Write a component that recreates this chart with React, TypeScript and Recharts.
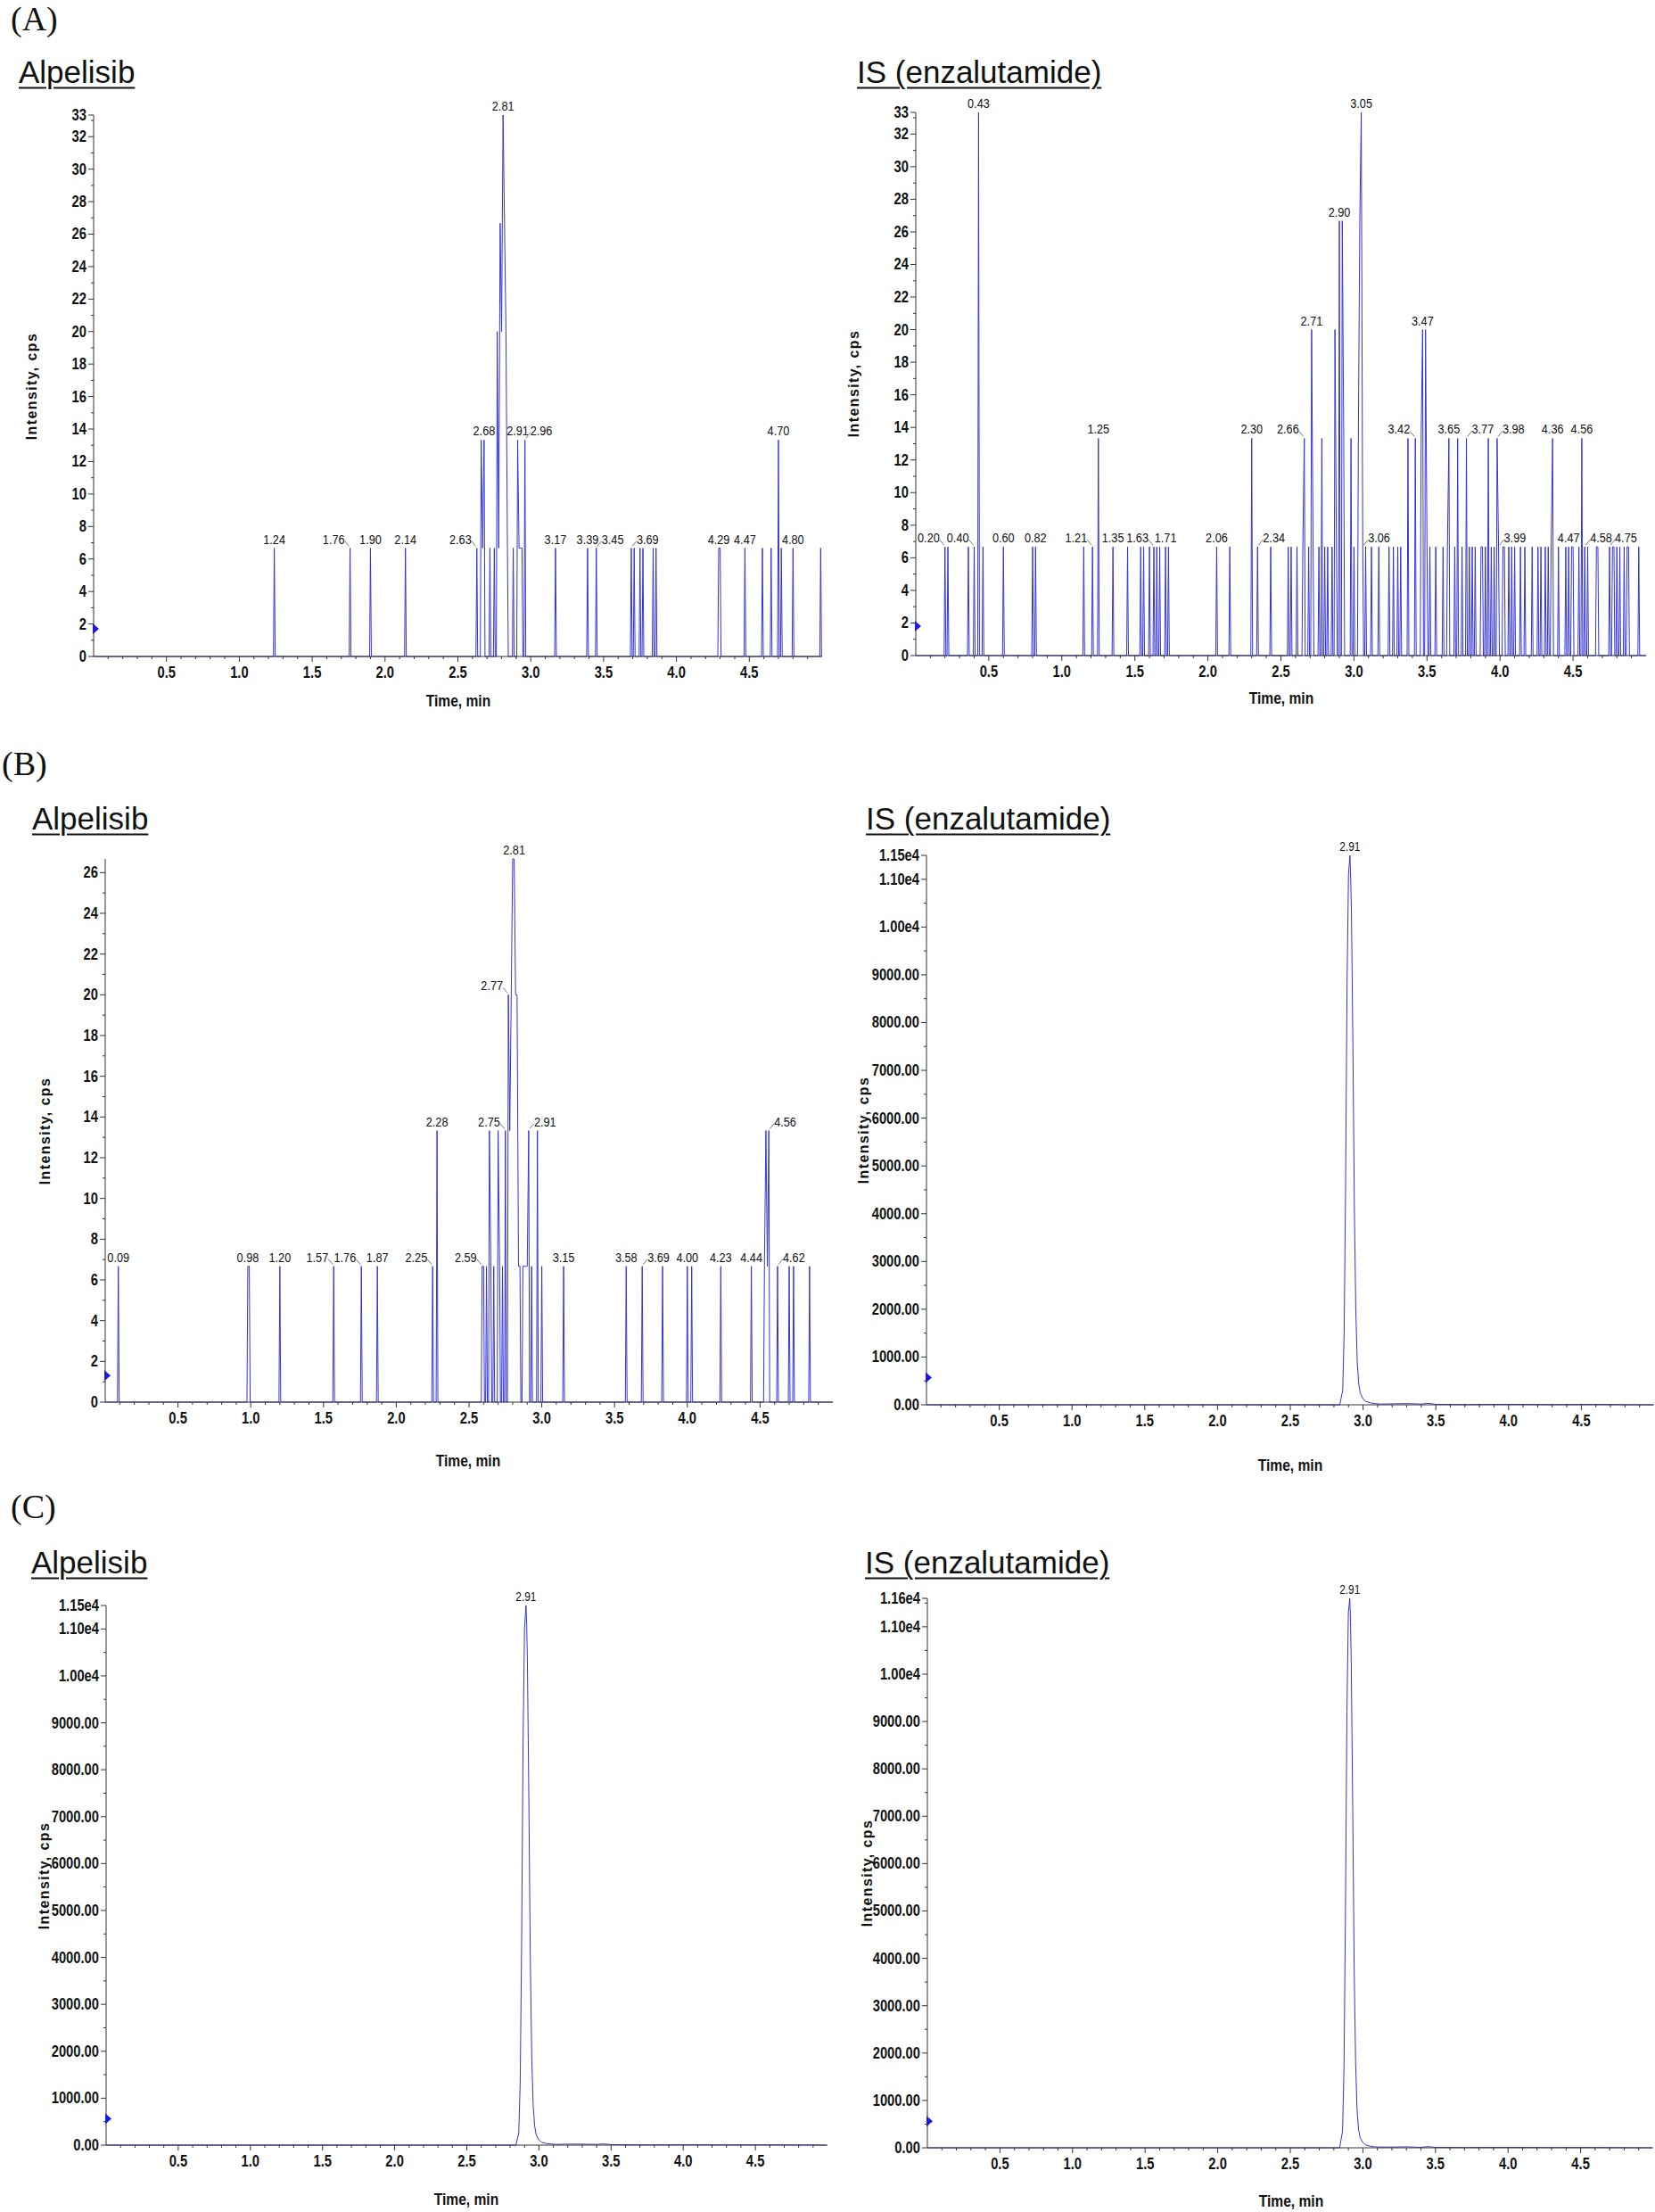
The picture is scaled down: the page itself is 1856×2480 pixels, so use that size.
import React from "react";
import { ComposedChart, Line, Scatter, XAxis, YAxis } from "recharts";

const BLUE = "#3434d4";
const AXIS = "#333";
const ARIAL = "'Liberation Sans', Arial, Helvetica, sans-serif";
const SERIF = "'Liberation Serif', 'Times New Roman', serif";
// the instrument software prints in a narrow face; squeeze Arial to match
const SQUEEZE = 0.82;

// spikes closer than GAP are joined, otherwise each one drops back to zero
const GAP = 0.0125;
const HALF = 0.006;

// ---------- x axis (Time, min)
const xMajor = [0.5, 1.0, 1.5, 2.0, 2.5, 3.0, 3.5, 4.0, 4.5];
const xMinor = Array.from({ length: 49 }, (_, i) => +((i + 1) / 10).toFixed(1));

// ---------- (A) blank, Alpelisib channel
const aAlpTimes = [
  1.24, 1.76, 1.90, 2.14, 2.63, 2.66, 2.67, 2.68, 2.72, 2.75,
  2.77, 2.78, 2.79, 2.80, 2.81, 2.82, 2.83, 2.84, 2.88, 2.91,
  2.92, 2.93, 2.94, 2.96, 3.17, 3.39, 3.45, 3.69, 3.71, 3.75,
  3.77, 3.84, 3.86, 4.29, 4.30, 4.47, 4.59, 4.65, 4.70, 4.72,
  4.80, 4.99,
];
const aAlpHeights = [
  6.67, 6.67, 6.67, 6.67, 6.67, 13.33, 6.67, 13.33, 6.67, 6.67,
  20, 6.67, 26.67, 20, 33.33, 26.67, 20, 6.67, 6.67, 13.33,
  6.67, 6.67, 6.67, 13.33, 6.67, 6.67, 6.67, 6.67, 6.67, 6.67,
  6.67, 6.67, 6.67, 6.67, 6.67, 6.67, 6.67, 6.67, 13.33, 6.67,
  6.67, 6.67,
];
const aAlpLabels = [1.24, 1.76, 1.90, 2.14, 2.63, 2.68, 2.81, 2.91, 2.96, 3.17, 3.39, 3.45, 3.69, 4.29, 4.47, 4.70, 4.80];
const aAlpSides = ["c", "l", "c", "c", "l", "c", "c", "c", "r", "c", "c", "r", "r", "c", "c", "c", "c"];

// ---------- (A) blank, IS channel
const aIsTimes = [
  0.20, 0.22, 0.36, 0.40, 0.43, 0.46, 0.60, 0.80, 0.82, 1.15,
  1.21, 1.25, 1.35, 1.45, 1.54, 1.56, 1.60, 1.63, 1.65, 1.67,
  1.71, 1.73, 2.06, 2.15, 2.30, 2.34, 2.43, 2.55, 2.57, 2.61,
  2.65, 2.66, 2.69, 2.71, 2.72, 2.76, 2.78, 2.80, 2.82, 2.85,
  2.87, 2.88, 2.90, 2.92, 2.93, 2.98, 3.00, 3.03, 3.04, 3.05,
  3.06, 3.08, 3.12, 3.17, 3.24, 3.27, 3.30, 3.32, 3.37, 3.42,
  3.46, 3.47, 3.49, 3.50, 3.52, 3.56, 3.61, 3.64, 3.65, 3.69,
  3.71, 3.74, 3.77, 3.79, 3.81, 3.83, 3.87, 3.88, 3.90, 3.92,
  3.94, 3.96, 3.98, 3.99, 4.02, 4.03, 4.06, 4.08, 4.10, 4.14,
  4.17, 4.22, 4.26, 4.28, 4.31, 4.33, 4.35, 4.36, 4.40, 4.45,
  4.47, 4.49, 4.50, 4.54, 4.56, 4.58, 4.60, 4.66, 4.67, 4.75,
  4.77, 4.78, 4.80, 4.82, 4.85, 4.87, 4.88, 4.95,
];
const aIsHeights = [
  6.67, 6.67, 6.67, 6.67, 33.33, 6.67, 6.67, 6.67, 6.67, 6.67,
  6.67, 13.33, 6.67, 6.67, 6.67, 6.67, 6.67, 6.67, 6.67, 6.67,
  6.67, 6.67, 6.67, 6.67, 13.33, 6.67, 6.67, 6.67, 6.67, 6.67,
  6.67, 13.33, 6.67, 20, 6.67, 6.67, 13.33, 6.67, 6.67, 6.67,
  20, 6.67, 26.67, 26.67, 13.33, 13.33, 6.67, 13.33, 26.67, 33.33,
  6.67, 6.67, 6.67, 6.67, 6.67, 6.67, 6.67, 6.67, 13.33, 13.33,
  13.33, 20, 20, 6.67, 6.67, 6.67, 6.67, 6.67, 13.33, 6.67,
  13.33, 6.67, 13.33, 6.67, 6.67, 6.67, 6.67, 6.67, 6.67, 13.33,
  6.67, 6.67, 13.33, 6.67, 6.67, 6.67, 6.67, 6.67, 6.67, 6.67,
  6.67, 6.67, 6.67, 6.67, 6.67, 6.67, 6.67, 13.33, 6.67, 6.67,
  6.67, 6.67, 6.67, 6.67, 13.33, 6.67, 6.67, 6.67, 6.67, 6.67,
  6.67, 6.67, 6.67, 6.67, 6.67, 6.67, 6.67, 6.67,
];
const aIsLabels = [
  0.20, 0.40, 0.43, 0.60, 0.82, 1.21, 1.25, 1.35, 1.63, 1.71, 2.06, 2.30, 2.34, 2.66, 2.71,
  2.90, 3.05, 3.06, 3.42, 3.47, 3.65, 3.77, 3.98, 3.99, 4.36, 4.47, 4.56, 4.58, 4.75,
];
const aIsSides = [
  "l", "l", "c", "c", "c", "l", "c", "c", "l", "c", "c", "c", "r", "l", "c",
  "c", "c", "r", "l", "c", "c", "r", "r", "r", "c", "c", "c", "r", "r",
];

// ---------- (B) LLOQ, Alpelisib channel
const bAlpTimes = [
  0.09, 0.98, 0.99, 1.20, 1.57, 1.76, 1.87, 2.25, 2.28, 2.59,
  2.60, 2.62, 2.64, 2.65, 2.67, 2.70, 2.71, 2.73, 2.75, 2.77,
  2.78, 2.79, 2.80, 2.81, 2.82, 2.83, 2.84, 2.85, 2.87, 2.88,
  2.89, 2.90, 2.91, 2.93, 2.97, 3.00, 3.15, 3.58, 3.69, 3.83,
  4.00, 4.03, 4.23, 4.44, 4.53, 4.54, 4.55, 4.56, 4.62, 4.70,
  4.73, 4.84,
];
const bAlpHeights = [
  6.67, 6.67, 6.67, 6.67, 6.67, 6.67, 6.67, 6.67, 13.33, 6.67,
  6.67, 6.67, 13.33, 6.67, 6.67, 13.33, 6.67, 6.67, 13.33, 20,
  13.33, 20, 26.67, 26.67, 20, 20, 6.67, 6.67, 6.67, 6.67,
  6.67, 6.67, 13.33, 6.67, 13.33, 6.67, 6.67, 6.67, 6.67, 6.67,
  6.67, 6.67, 6.67, 6.67, 6.67, 13.33, 6.67, 13.33, 6.67, 6.67,
  6.67, 6.67,
];
const bAlpLabels = [0.09, 0.98, 1.20, 1.57, 1.76, 1.87, 2.25, 2.28, 2.59, 2.75, 2.77, 2.81, 2.91, 3.15, 3.58, 3.69, 4.00, 4.23, 4.44, 4.56, 4.62];
const bAlpSides = ["c", "c", "c", "l", "l", "c", "l", "c", "l", "l", "l", "c", "r", "c", "c", "r", "c", "c", "c", "r", "r"];

// ---------- (B) LLOQ, IS channel
const bIsTimes = [
  2.70, 2.84, 2.86, 2.87, 2.88, 2.89, 2.90, 2.91, 2.915, 2.92,
  2.93, 2.94, 2.95, 2.96, 2.97, 2.98, 3.00, 3.02, 3.05, 3.08,
  3.12, 3.20, 3.30, 3.40, 3.45, 3.50, 3.70, 4.00, 4.30, 4.60, 4.99,
];
const bIsValues = [
  0, 0, 300, 1500, 4600, 8800, 11100, 11500, 11000, 10400,
  7600, 4200, 2000, 900, 450, 250, 120, 70, 40, 25,
  15, 20, 25, 15, 30, 10, 5, 10, 5, 8, 0,
];

// ---------- (C) ULOQ, Alpelisib channel
const cAlpTimes = bIsTimes;
const cAlpValues = [
  0, 0, 250, 1300, 4300, 8600, 11000, 11500, 11100, 10300,
  7400, 4000, 1900, 850, 420, 230, 110, 60, 35, 25,
  15, 20, 20, 15, 25, 10, 5, 8, 5, 6, 0,
];

// ---------- (C) ULOQ, IS channel
const cIsTimes = bIsTimes;
const cIsValues = [
  0, 0, 350, 1700, 5000, 9200, 11300, 11600, 11100, 10200,
  7200, 3800, 1800, 800, 400, 220, 110, 60, 35, 20,
  15, 15, 20, 10, 25, 10, 5, 8, 5, 6, 0,
];
const bigPeakLabels = [2.91];
const bigPeakSides = ["c"];

// ---------- y axis tick labels
const smallYLabelsA = [0, 2, 4, 6, 8, 10, 12, 14, 16, 18, 20, 22, 24, 26, 28, 30, 32, 33.33];
const smallYLabelsB = [0, 2, 4, 6, 8, 10, 12, 14, 16, 18, 20, 22, 24, 26];
const bigYLabels115 = [0, 1000, 2000, 3000, 4000, 5000, 6000, 7000, 8000, 9000, 10000, 11000, 11500];
const bigYLabels116 = [0, 1000, 2000, 3000, 4000, 5000, 6000, 7000, 8000, 9000, 10000, 11000, 11600];

// blue threshold arrow on the y axis
const markerLevels = [1.7, 1.8, 1.3, 570, 560, 560];

type Pt = { t: number; v: number };
type Lbl = { t: number; v: number; text: string; side: string };

function spikeTrace(times: number[], heights: number[]): Pt[] {
  const pts: Pt[] = [{ t: 0, v: 0 }];
  times.forEach((t, i) => {
    const prev = i > 0 ? times[i - 1] : -1;
    const next = i < times.length - 1 ? times[i + 1] : 99;
    if (t - prev > GAP) pts.push({ t: t - HALF, v: 0 });
    pts.push({ t, v: heights[i] });
    if (next - t > GAP) pts.push({ t: Math.min(t + HALF, 5), v: 0 });
  });
  pts.push({ t: 5, v: 0 });
  return pts;
}

function profileTrace(times: number[], values: number[]): Pt[] {
  return [{ t: 0, v: 0 }, ...times.map((t, i) => ({ t, v: values[i] }))];
}

function peakLabels(times: number[], heights: number[], labels: number[], sides: string[]): Lbl[] {
  return labels.map((lt, i) => {
    let best = 0;
    times.forEach((t, j) => {
      if (Math.abs(t - lt) < Math.abs(times[best] - lt)) best = j;
    });
    return { t: times[best], v: heights[best], text: lt.toFixed(2), side: sides[i] };
  });
}

function fmtSmall(v: number) {
  return String(Math.round(v));
}
function fmtBig(v: number) {
  return v >= 10000 ? (v / 10000).toFixed(2) + "e4" : v.toFixed(2);
}

// text squeezed horizontally around its anchor point
function NText(props: { x: number; y: number; anchor: string; size: number; bold?: boolean; children: any }) {
  return (
    <text
      transform={`translate(${props.x} ${props.y}) scale(${SQUEEZE} 1)`}
      x={0}
      y={0}
      textAnchor={props.anchor}
      fontFamily={ARIAL}
      fontWeight={props.bold ? "bold" : "normal"}
      fontSize={props.size}
      fill="#111"
    >
      {props.children}
    </text>
  );
}

function XTick(props: any) {
  const { x, y, payload } = props;
  const v = payload.value;
  const major = xMajor.some((m) => Math.abs(m - v) < 1e-6);
  return (
    <g>
      <line x1={x} x2={x} y1={y} y2={y + (major ? 6 : 3)} stroke={AXIS} strokeWidth={1} />
      {major && (
        <NText x={x} y={y + 24} anchor="middle" size={18} bold>
          {v.toFixed(1)}
        </NText>
      )}
    </g>
  );
}

function makeYTick(labels: number[], fmt: (v: number) => string) {
  return (props: any) => {
    const { x, y, payload } = props;
    const v = payload.value;
    const major = labels.some((m) => Math.abs(m - v) < 1e-6);
    return (
      <g>
        <line x1={x} x2={x - (major ? 6 : 3)} y1={y} y2={y} stroke={AXIS} strokeWidth={1} />
        {major && (
          <NText x={x - 8} y={y + 6} anchor="end" size={18} bold>
            {fmt(v)}
          </NText>
        )}
      </g>
    );
  };
}

function makeLabelShape(fontSize: number) {
  return (props: any) => {
    const { cx, cy, payload } = props;
    if (cx == null || cy == null) return <g />;
    const side = payload.side;
    if (side === "l") {
      return (
        <g>
          <line x1={cx - 6} y1={cy - 8} x2={cx - 1} y2={cy - 2} stroke="#777" strokeWidth={1} />
          <NText x={cx - 6} y={cy - 5} anchor="end" size={fontSize}>
            {payload.text}
          </NText>
        </g>
      );
    }
    if (side === "r") {
      return (
        <g>
          <line x1={cx + 6} y1={cy - 8} x2={cx + 1} y2={cy - 2} stroke="#777" strokeWidth={1} />
          <NText x={cx + 6} y={cy - 5} anchor="start" size={fontSize}>
            {payload.text}
          </NText>
        </g>
      );
    }
    return (
      <NText x={cx} y={cy - 5} anchor="middle" size={fontSize}>
        {payload.text}
      </NText>
    );
  };
}

function markerShape(props: any) {
  const { cx, cy } = props;
  if (cx == null || cy == null) return <g />;
  return <polygon points={`${cx - 1},${cy - 6} ${cx + 6},${cy} ${cx - 1},${cy + 6}`} fill="#1a1ae0" />;
}

interface PanelProps {
  left: number;
  right: number;
  top: number;
  bottom: number;
  yMax: number;
  yTicks: number[];
  yLabels: number[];
  fmt: (v: number) => string;
  trace: Pt[];
  labels: Lbl[];
  marker: number;
  labelSize: number;
}

function Panel(p: PanelProps) {
  const ML = 110;
  const MT = 40;
  const MB = 40;
  const MR = 4;
  const w = p.right - p.left + ML + MR;
  const h = p.bottom - p.top + MT + MB;
  return (
    <div style={{ position: "absolute", left: p.left - ML, top: p.top - MT }}>
      <ComposedChart width={w} height={h} margin={{ top: MT, right: MR, bottom: 0, left: 0 }}>
        <XAxis
          type="number"
          dataKey="t"
          domain={[0, 5]}
          ticks={xMinor}
          interval={0}
          height={MB}
          tickSize={0}
          tickMargin={0}
          tickLine={false}
          axisLine={{ stroke: AXIS, strokeWidth: 1 }}
          tick={<XTick />}
        />
        <YAxis
          type="number"
          domain={[0, p.yMax]}
          ticks={p.yTicks}
          interval={0}
          width={ML}
          tickSize={0}
          tickMargin={0}
          tickLine={false}
          axisLine={{ stroke: AXIS, strokeWidth: 1 }}
          tick={makeYTick(p.yLabels, p.fmt)}
        />
        <Line
          data={p.trace}
          dataKey="v"
          type="linear"
          stroke={BLUE}
          strokeWidth={1}
          dot={false}
          activeDot={false}
          isAnimationActive={false}
        />
        <Scatter data={p.labels} dataKey="v" shape={makeLabelShape(p.labelSize)} isAnimationActive={false} />
        <Scatter data={[{ t: 0, v: p.marker }]} dataKey="v" shape={markerShape} isAnimationActive={false} />
      </ComposedChart>
    </div>
  );
}

function range(step: number, max: number, top: number) {
  const out: number[] = [];
  for (let v = 0; v <= max + 1e-9; v += step) out.push(+v.toFixed(2));
  if (top > out[out.length - 1] + 1e-9) out.push(top);
  return out;
}

const panels: PanelProps[] = [
  {
    left: 105, right: 922, top: 129, bottom: 736, yMax: 33.33,
    yTicks: range(1, 33, 33.33), yLabels: smallYLabelsA, fmt: fmtSmall,
    trace: spikeTrace(aAlpTimes, aAlpHeights),
    labels: peakLabels(aAlpTimes, aAlpHeights, aAlpLabels, aAlpSides),
    marker: markerLevels[0], labelSize: 15.5,
  },
  {
    left: 1027, right: 1846, top: 126, bottom: 735, yMax: 33.33,
    yTicks: range(1, 33, 33.33), yLabels: smallYLabelsA, fmt: fmtSmall,
    trace: spikeTrace(aIsTimes, aIsHeights),
    labels: peakLabels(aIsTimes, aIsHeights, aIsLabels, aIsSides),
    marker: markerLevels[1], labelSize: 15.5,
  },
  {
    left: 118, right: 934, top: 963, bottom: 1572, yMax: 26.67,
    yTicks: range(1, 26, 26), yLabels: smallYLabelsB, fmt: fmtSmall,
    trace: spikeTrace(bAlpTimes, bAlpHeights),
    labels: peakLabels(bAlpTimes, bAlpHeights, bAlpLabels, bAlpSides),
    marker: markerLevels[2], labelSize: 15.5,
  },
  {
    left: 1039, right: 1855, top: 959, bottom: 1575, yMax: 11500,
    yTicks: range(500, 11500, 11500), yLabels: bigYLabels115, fmt: fmtBig,
    trace: profileTrace(bIsTimes, bIsValues),
    labels: peakLabels(bIsTimes, bIsValues, bigPeakLabels, bigPeakSides),
    marker: markerLevels[3], labelSize: 14.5,
  },
  {
    left: 119, right: 928, top: 1800, bottom: 2405, yMax: 11500,
    yTicks: range(500, 11500, 11500), yLabels: bigYLabels115, fmt: fmtBig,
    trace: profileTrace(cAlpTimes, cAlpValues),
    labels: peakLabels(cAlpTimes, cAlpValues, bigPeakLabels, bigPeakSides),
    marker: markerLevels[4], labelSize: 14.5,
  },
  {
    left: 1040, right: 1854, top: 1792, bottom: 2408, yMax: 11600,
    yTicks: range(500, 11500, 11600), yLabels: bigYLabels116, fmt: fmtBig,
    trace: profileTrace(cIsTimes, cIsValues),
    labels: peakLabels(cIsTimes, cIsValues, bigPeakLabels, bigPeakSides),
    marker: markerLevels[5], labelSize: 14.5,
  },
];

const letters = [
  { text: "(A)", x: 12, y: 21 },
  { text: "(B)", x: 2, y: 856 },
  { text: "(C)", x: 12, y: 1689 },
];

const titles = [
  { text: "Alpelisib", x: 21, y: 80 },
  { text: "IS (enzalutamide)", x: 961, y: 80 },
  { text: "Alpelisib", x: 36, y: 917 },
  { text: "IS (enzalutamide)", x: 971, y: 917 },
  { text: "Alpelisib", x: 35, y: 1751 },
  { text: "IS (enzalutamide)", x: 970, y: 1751 },
];

const timeLabels = [
  { x: 514, y: 785 },
  { x: 1437, y: 782 },
  { x: 525, y: 1637 },
  { x: 1447, y: 1642 },
  { x: 523, y: 2465 },
  { x: 1448, y: 2467 },
];

const intensityLabels = [
  { x: 36, y: 433 },
  { x: 958, y: 430 },
  { x: 51, y: 1268 },
  { x: 969, y: 1267 },
  { x: 50, y: 2103 },
  { x: 973, y: 2100 },
];

export default function App() {
  return (
    <div
      style={{
        position: "absolute",
        left: 0,
        top: 0,
        width: 1856,
        height: 2480,
        overflow: "hidden",
        background: "#fff",
      }}
    >
      {panels.map((p, i) => (
        <Panel key={i} {...p} />
      ))}
      {letters.map((l) => (
        <div
          key={l.text}
          style={{
            position: "absolute",
            left: l.x,
            top: l.y,
            transform: "translateY(-50%)",
            fontFamily: SERIF,
            fontSize: 38,
            lineHeight: 1,
            color: "#111",
          }}
        >
          {l.text}
        </div>
      ))}
      {titles.map((t, i) => (
        <div
          key={i}
          style={{
            position: "absolute",
            left: t.x,
            top: t.y,
            transform: "translateY(-50%)",
            fontFamily: ARIAL,
            fontSize: 35,
            lineHeight: 1,
            color: "#111",
            textDecoration: "underline",
            textUnderlineOffset: 5,
            textDecorationThickness: 2,
            whiteSpace: "nowrap",
          }}
        >
          {t.text}
        </div>
      ))}
      {timeLabels.map((t, i) => (
        <div
          key={i}
          style={{
            position: "absolute",
            left: t.x,
            top: t.y,
            transform: `translate(-50%, -50%) scaleX(${SQUEEZE})`,
            fontFamily: ARIAL,
            fontWeight: "bold",
            fontSize: 19,
            lineHeight: 1,
            color: "#111",
            whiteSpace: "nowrap",
          }}
        >
          Time, min
        </div>
      ))}
      {intensityLabels.map((t, i) => (
        <div
          key={i}
          style={{
            position: "absolute",
            left: t.x,
            top: t.y,
            transform: "translate(-50%, -50%) rotate(-90deg)",
            fontFamily: ARIAL,
            fontWeight: "bold",
            fontSize: 16,
            letterSpacing: 1.4,
            lineHeight: 1,
            color: "#111",
            whiteSpace: "nowrap",
          }}
        >
          Intensity, cps
        </div>
      ))}
    </div>
  );
}
